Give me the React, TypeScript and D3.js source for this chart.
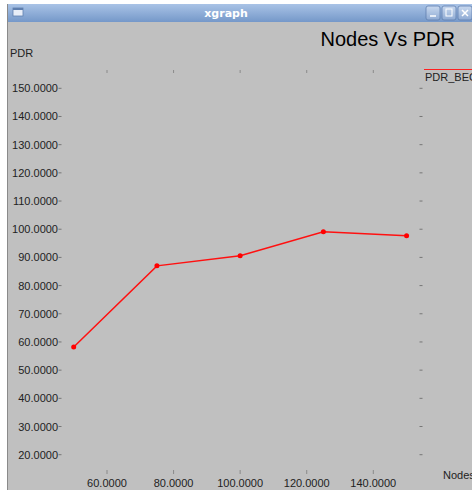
import React from "react";
import * as d3 from "d3";

const nodes = [50, 75, 100, 125, 150];
const pdr = [58.2, 87.0, 90.6, 99.1, 97.7];
const yTicks = [150, 140, 130, 120, 110, 100, 90, 80, 70, 60, 50, 40, 30, 20];
const xTicks = [60, 80, 100, 120, 140];
const seriesName = "PDR_BEC";
const title = "Nodes Vs PDR";
const xLabel = "Nodes";
const yLabel = "PDR";

export default function App() {
  const W = 472, H = 490;
  const x = d3.scaleLinear().domain([60, 140]).range([107, 373.3]);
  const y = d3.scaleLinear().domain([20, 150]).range([454.7, 88.3]);
  const line = d3.line<number>().x((d, i) => x(nodes[i])).y((d) => y(d));
  const fmt = (v: number) => v.toFixed(4);
  const font = "'Liberation Sans', Arial, sans-serif";
  const bold = "'DejaVu Sans', sans-serif";
  return (
    <div style={{ position: "fixed", left: 0, top: 0, width: W, height: H }}>
      <svg width={W} height={H} style={{ display: "block" }}>
        <defs>
          <linearGradient id="tb" x1="0" y1="0" x2="0" y2="1">
            <stop offset="0" stopColor="#a9c3e6" />
            <stop offset="1" stopColor="#7598c9" />
          </linearGradient>
          <linearGradient id="btn" x1="0" y1="0" x2="0" y2="1">
            <stop offset="0" stopColor="#c9d9ef" />
            <stop offset="1" stopColor="#8eaad3" />
          </linearGradient>
        </defs>
        <rect x={0} y={0} width={W} height={H} fill="#ffffff" />
        <rect x={7} y={4} width={W - 7} height={H - 4} fill="#c0c0c0" />
        <line x1={7.5} y1={4} x2={7.5} y2={H} stroke="#8a8a8a" />
        {/* title bar */}
        <rect x={8} y={4} width={W - 8} height={18} fill="url(#tb)" />
        <rect x={13} y={8} width={10} height={8} fill="#e8eef8" stroke="#5f7fae" strokeWidth={0.8} />
        <rect x={13} y={8} width={10} height={2} fill="#5f7fae" />
        <text x={226} y={17} textAnchor="middle" fill="#ffffff" fontWeight="bold" fontSize={11} fontFamily={bold}>xgraph</text>
        {[426, 442, 458].map((bx, i) => (
          <g key={i}>
            <rect x={bx} y={6} width={14} height={14} rx={2} fill="url(#btn)" stroke="#5f7fae" strokeWidth={0.8} />
            {i === 0 && <line x1={bx + 4} y1={16} x2={bx + 10} y2={16} stroke="#ffffff" strokeWidth={1.5} />}
            {i === 1 && <rect x={bx + 4} y={9} width={6} height={7} fill="none" stroke="#ffffff" strokeWidth={1} />}
            {i === 2 && (
              <path d={`M${bx + 4},${10} L${bx + 10},${16} M${bx + 10},${10} L${bx + 4},${16}`} stroke="#ffffff" strokeWidth={1.5} />
            )}
          </g>
        ))}
        {/* titles */}
        <text x={455} y={46} textAnchor="end" fontSize={20} fill="#000" fontFamily={font}>{title}</text>
        <text x={10} y={57} fontSize={11} fill="#222" fontFamily={font}>{yLabel}</text>
        <text x={443} y={479} fontSize={11} fill="#222" fontFamily={font}>{xLabel}</text>
        {/* y ticks */}
        {yTicks.map((t) => (
          <g key={t}>
            <text x={58} y={y(t) + 4} textAnchor="end" fontSize={11} fill="#222" fontFamily={font}>{fmt(t)}</text>
            <line x1={58.5} y1={y(t)} x2={61.5} y2={y(t)} stroke="#444" strokeWidth={0.6} />
            <line x1={419.5} y1={y(t)} x2={422.5} y2={y(t)} stroke="#444" strokeWidth={0.6} />
          </g>
        ))}
        {/* x ticks */}
        {xTicks.map((t) => (
          <g key={t}>
            <line x1={x(t)} y1={70} x2={x(t)} y2={73} stroke="#666" strokeWidth={0.6} />
            <line x1={x(t)} y1={470} x2={x(t)} y2={474} stroke="#666" strokeWidth={0.6} />
            <text x={x(t)} y={487} textAnchor="middle" fontSize={11} fill="#222" fontFamily={font}>{fmt(t)}</text>
          </g>
        ))}
        {/* legend */}
        <line x1={424} y1={69.5} x2={W} y2={69.5} stroke="#ff2020" strokeWidth={1} />
        <text x={425} y={81} fontSize={11} fill="#222" fontFamily={font}>{seriesName}</text>
        {/* series */}
        <path d={line(pdr) || ""} fill="none" stroke="#ff1010" strokeWidth={1.5} />
        {pdr.map((v, i) => (
          <circle key={i} cx={x(nodes[i])} cy={y(v)} r={2.5} fill="#ff0000" />
        ))}
      </svg>
    </div>
  );
}
